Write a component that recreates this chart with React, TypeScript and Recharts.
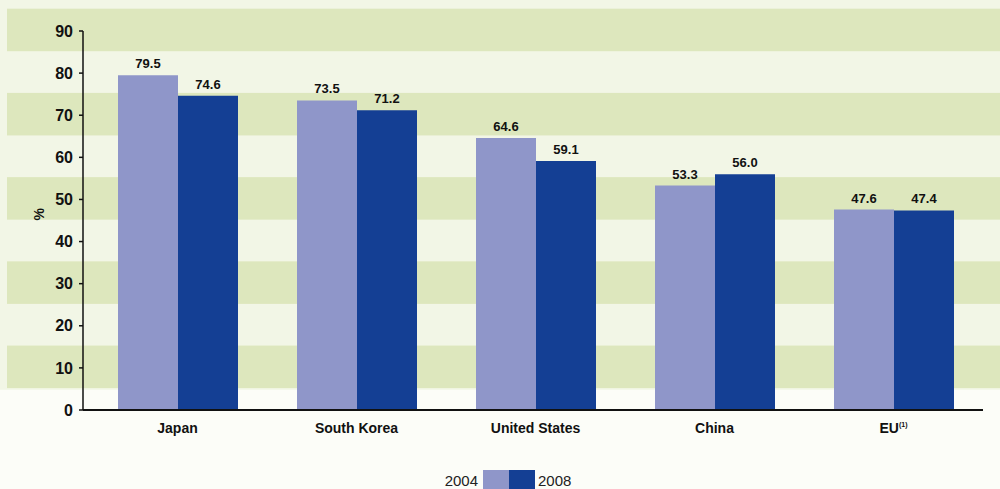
import { BarChart, Bar, XAxis, YAxis, ReferenceArea, LabelList } from 'recharts'

const categories = ['Japan', 'South Korea', 'United States', 'China', 'EU']
const values2004 = [79.5, 73.5, 64.6, 53.3, 47.6]
const values2008 = [74.6, 71.2, 59.1, 56.0, 47.4]
const yTicks = [0, 10, 20, 30, 40, 50, 60, 70, 80, 90]
const bandCenters = [90, 70, 50, 30, 10]

const C04 = '#8f96c9'
const C08 = '#143f94'
const BAND = '#dde7bd'
const LIGHT = '#f2f6e6'
const FONT = '"Liberation Sans", Arial, sans-serif'

const data = categories.map((c, i) => ({ name: c, y2004: values2004[i], y2008: values2008[i] }))

const CatTick = ({ x, y, payload }: any) => {
  const isEU = payload.value === 'EU'
  return (
    <text x={x} y={y} dy={11} textAnchor="middle" fontFamily={FONT} fontWeight="bold" fontSize={14} fill="#111">
      {isEU ? 'EU' : payload.value}
      {isEU && <tspan fontSize={7} dy={-6}>(1)</tspan>}
    </text>
  )
}

// bands drawn full-width, past the plot area
const BandShape = ({ y, height, fill, top }: any) => (
  <rect x={top ? 0 : 7} y={top ? 0 : y} width={1000} height={top ? y + height : height} fill={fill} />
)

const LegendRow = () => (
  <g fontFamily={FONT} fontSize={15} fill="#222">
    <text x={478} y={486} textAnchor="end">2004</text>
    <rect x={483} y={470} width={26} height={19} fill={C04} />
    <rect x={509} y={470} width={26} height={19} fill={C08} />
    <text x={538} y={486}>2008</text>
  </g>
)

const labelStyle = { fontFamily: FONT, fontWeight: 'bold', fontSize: 13, fill: '#111' }

export default function App() {
  return (
    <div style={{ position: 'absolute', left: 0, top: 0, width: 1000, height: 489, background: '#fcfdf8' }}>
      <BarChart
        width={1000} height={489} data={data}
        margin={{ top: 31, right: 17, bottom: 49, left: 0 }}
        barGap={0} barSize={60}
      >
        <ReferenceArea y1={4.8} y2={95} ifOverflow="visible" fill={LIGHT} shape={(p: any) => <BandShape {...p} top />} />
        {bandCenters.map(c => (
          <ReferenceArea key={c} y1={c - 4.8} y2={c + 5.3} ifOverflow="visible" fill={BAND} shape={(p: any) => <BandShape {...p} />} />
        ))}
        <XAxis
          dataKey="name" tick={<CatTick />} tickLine={false} height={30}
          padding={{ left: 5, right: 0 }}
          axisLine={{ stroke: '#111', strokeWidth: 2 }} tickMargin={6}
        />
        <YAxis
          width={83} domain={[0, 90]} ticks={yTicks} interval={0}
          tick={{ fontFamily: FONT, fontWeight: 'bold', fontSize: 16, fill: '#111' }}
          tickSize={4} tickMargin={6}
          tickLine={{ stroke: '#111', strokeWidth: 1.5 }}
          axisLine={{ stroke: '#111', strokeWidth: 1.5 }}
          label={{ value: '%', angle: -90, position: 'insideLeft', offset: 39, fontFamily: FONT, fontWeight: 'bold', fontSize: 14, fill: '#111' }}
        />
        <Bar dataKey="y2004" fill={C04} isAnimationActive={false}>
          <LabelList dataKey="y2004" position="top" offset={7} formatter={(v: any) => Number(v).toFixed(1)} style={labelStyle} />
        </Bar>
        <Bar dataKey="y2008" fill={C08} isAnimationActive={false}>
          <LabelList dataKey="y2008" position="top" offset={7} formatter={(v: any) => Number(v).toFixed(1)} style={labelStyle} />
        </Bar>
        <LegendRow />
      </BarChart>
    </div>
  )
}
